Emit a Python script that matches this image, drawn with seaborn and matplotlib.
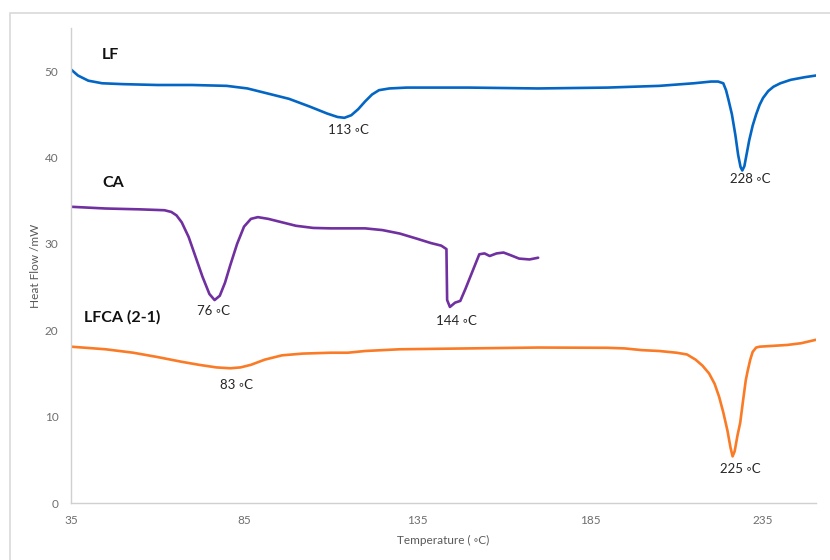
import numpy as np
import pandas as pd
import matplotlib
matplotlib.use("Agg")
import matplotlib.pyplot as plt
import seaborn as sns
from matplotlib.patches import Rectangle

# ---- data ----
lf_temp = [35, 37, 40, 44, 50, 60, 70, 80, 86, 92, 98, 104, 109, 112, 114, 116, 118, 120, 122, 124, 127, 132,
           150, 170, 190, 205, 215, 220, 222, 223.5, 224.3, 225, 226, 227, 227.8, 228.5, 229, 229.6, 230.3, 231,
           232, 233, 234, 235, 236.5, 238, 240, 243, 247, 250.3]
lf_heat = [50.2, 49.5, 48.9, 48.6, 48.5, 48.4, 48.4, 48.3, 48.0, 47.4, 46.8, 45.9, 45.1, 44.7, 44.6, 44.9, 45.6,
           46.5, 47.3, 47.8, 48.0, 48.1, 48.1, 48.0, 48.1, 48.3, 48.6, 48.8, 48.8, 48.6, 47.8, 46.7, 45.0, 42.6,
           40.3, 38.9, 38.5, 39.0, 40.5, 42.0, 43.7, 45.0, 46.1, 46.9, 47.7, 48.2, 48.6, 49.0, 49.3, 49.5]

ca_temp = [35, 45, 55, 62, 64, 65.5, 67, 69, 71, 73, 75, 76.5, 78, 79.5, 81, 83, 85, 87, 89, 92, 96, 100, 105,
           110, 115, 120, 125, 130, 135, 139, 142, 143.5, 143.7, 144.5, 146, 147.5, 149, 151, 153, 154.5, 156,
           158, 160, 162, 164.5, 167.5, 170]
ca_heat = [34.3, 34.1, 34.0, 33.9, 33.7, 33.3, 32.5, 30.8, 28.5, 26.2, 24.2, 23.5, 24.0, 25.5, 27.5, 30.0, 32.0,
           32.9, 33.1, 32.9, 32.5, 32.1, 31.85, 31.8, 31.8, 31.8, 31.6, 31.2, 30.6, 30.1, 29.8, 29.4, 23.5, 22.7,
           23.2, 23.4, 24.8, 26.8, 28.8, 28.9, 28.6, 28.9, 29.0, 28.7, 28.3, 28.2, 28.4]

lfca_temp = [35, 45, 53, 60, 67, 72, 77, 81, 84, 87, 91, 96, 102, 110, 115, 120, 130, 150, 170, 190, 195, 200,
             205, 210, 213, 215.5, 217.5, 219.4, 221, 222.3, 223.5, 224.7, 225.6, 226.2, 226.8, 227.6, 228.4,
             229.2, 230, 230.5, 231.3, 232, 233, 234, 238, 242, 246, 250.3]
lfca_heat = [18.1, 17.8, 17.4, 16.9, 16.35, 16.0, 15.7, 15.6, 15.7, 16.0, 16.6, 17.1, 17.3, 17.4, 17.4, 17.6,
             17.8, 17.9, 18.0, 17.97, 17.9, 17.7, 17.6, 17.4, 17.2, 16.6, 15.9, 15.0, 13.8, 12.3, 10.5, 8.4, 6.4,
             5.4, 6.0, 7.8, 9.3, 11.8, 14.2, 15.2, 16.6, 17.5, 18.0, 18.1, 18.2, 18.3, 18.5, 18.9]

series_names = ["LF", "CA", "LFCA (2-1)"]
series_colors = ["#0366C4", "#7030A0", "#FB7A25"]
name_pos = [(44.0, 51.9), (44.0, 37.0), (38.8, 21.5)]

peak_labels = ["113 ◦C", "228 ◦C", "76 ◦C", "144 ◦C", "83 ◦C", "225 ◦C"]
peak_pos = [(115.3, 43.2), (231.2, 37.5), (76.3, 22.2), (146.3, 21.1), (82.7, 13.7), (228.4, 3.9)]

x_ticks = [35, 85, 135, 185, 235]
y_ticks = [0, 10, 20, 30, 40, 50]

# ---- plotting ----
sns.set_style("white")
plt.rcParams["font.family"] = ["Lato", "DejaVu Sans"]

fig = plt.figure(figsize=(8.3, 5.6), dpi=100)
ax = fig.add_axes([71 / 830, 1 - 503 / 560, (816 - 71) / 830, (503 - 28) / 560])

# frame around the figure
fig.patches.append(Rectangle((10 / 830, -0.01), 1.0, 1 - 13 / 560 + 0.01, transform=fig.transFigure,
                             fill=False, edgecolor="#D9D9D9", linewidth=1.2, zorder=-1))

frames = [
    pd.DataFrame({"Temperature": lf_temp, "Heat": lf_heat}),
    pd.DataFrame({"Temperature": ca_temp, "Heat": ca_heat}),
    pd.DataFrame({"Temperature": lfca_temp, "Heat": lfca_heat}),
]
for df, c in zip(frames, series_colors):
    sns.lineplot(data=df, x="Temperature", y="Heat", ax=ax, color=c, linewidth=1.9, sort=False)

for name, (x, y) in zip(series_names, name_pos):
    ax.text(x, y, name, fontsize=11.5, fontweight="bold", color="#111111", ha="left", va="center")

for lab, (x, y) in zip(peak_labels, peak_pos):
    ax.text(x, y, lab, fontsize=9.5, color="#262626", ha="center", va="center")

ax.set_xlim(35, 250.3)
ax.set_ylim(0, 55)
ax.set_xticks(x_ticks)
ax.set_yticks(y_ticks)
ax.tick_params(axis="both", length=0, labelsize=8.5, labelcolor="#6E6E6E", pad=9)
ax.set_xlabel("Temperature ( ◦C)", fontsize=8.5, color="#595959", labelpad=6)
ax.set_ylabel("Heat Flow /mW", fontsize=8.5, color="#595959", labelpad=3)

for side in ["top", "right"]:
    ax.spines[side].set_visible(False)
for side in ["left", "bottom"]:
    ax.spines[side].set_color("#D0D0D0")
    ax.spines[side].set_linewidth(1.0)

fig.savefig("out.png", dpi=100)
